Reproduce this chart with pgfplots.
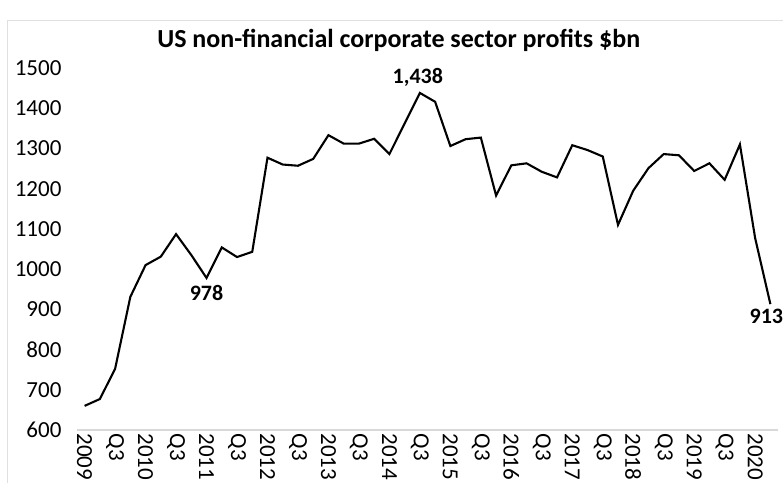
\documentclass[border=0pt]{standalone}
\usepackage{fontspec}
\setmainfont{Carlito}
\usepackage{pgfplots}
\pgfplotsset{compat=1.18}

\pgfplotstableread{
q   profit
0   660
1   677
2   752
3   931
4   1010
5   1031
6   1087
7   1035
8   978
9   1054
10  1030
11  1043
12  1277
13  1260
14  1257
15  1274
16  1333
17  1312
18  1312
19  1324
20  1286
21  1362
22  1438
23  1416
24  1306
25  1323
26  1327
27  1183
28  1258
29  1263
30  1242
31  1228
32  1308
33  1296
34  1280
35  1110
36  1195
37  1251
38  1286
39  1283
40  1244
41  1263
42  1222
43  1310
44  1077
45  913
}\profits

\begin{document}
\begin{tikzpicture}
% page = reference frame (axis box starts 77px in, 52px up from bottom)
\useasboundingbox (-77pt,-52pt) rectangle (706pt,430pt);
\draw[black!12, line width=0.8pt] (-70pt,-60pt) -- (-70pt,410pt) -- (720pt,410pt);
\begin{axis}[
    at={(0pt,0pt)}, anchor=south west,
    scale only axis,
    width=701pt, height=362pt,
    xmin=-0.5, xmax=45.5,
    ymin=600, ymax=1500,
    axis lines=left,
    axis line style={-},
    x axis line style={draw=black!15, line width=1.3pt},
    y axis line style={draw=none},
    major tick length=0pt,
    xtick={0,2,...,44},
    xticklabels={2009,Q3,2010,Q3,2011,Q3,2012,Q3,2013,Q3,2014,Q3,2015,Q3,2016,Q3,2017,Q3,2018,Q3,2019,Q3,2020},
    ytick={600,700,...,1500},
    tick label style={font=\fontsize{23}{27}\selectfont, black},
    xticklabel style={rotate=-90, anchor=west},
    yticklabel style={xshift=-12pt},
    /pgf/number format/assume math mode=true,
    /pgf/number format/1000 sep={},
    title={US non-financial corporate sector profits \$bn},
    title style={font=\bfseries\fontsize{26}{30}\selectfont, at={(0.459,1)}, anchor=center, yshift=22pt},
    clip=false,
]
\addplot[black, line width=2.1pt, line join=miter] table[x=q, y=profit] {\profits};

% value labels
\addplot[draw=none, nodes near coords, point meta=explicit symbolic,
    every node near coord/.style={font=\bfseries\fontsize{22}{26}\selectfont, anchor=north, yshift=-4pt}]
    coordinates {(8,978)[978]};
\addplot[draw=none, nodes near coords, point meta=explicit symbolic,
    every node near coord/.style={font=\bfseries\fontsize{22}{26}\selectfont, anchor=south, xshift=-2pt, yshift=3pt}]
    coordinates {(22,1438)[1,438]};
\addplot[draw=none, nodes near coords, point meta=explicit symbolic,
    every node near coord/.style={font=\bfseries\fontsize{22}{26}\selectfont, anchor=north, xshift=-4pt, yshift=-1pt}]
    coordinates {(45,913)[913]};
\end{axis}
\end{tikzpicture}
\end{document}
